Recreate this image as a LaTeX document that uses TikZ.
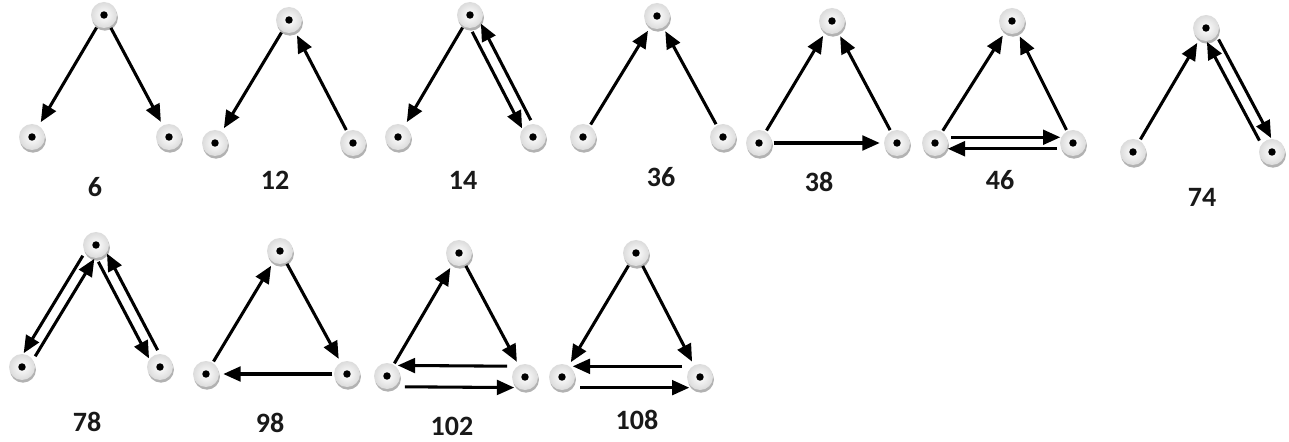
\documentclass[tikz,border=0pt]{standalone}
\usepackage{fontspec}
\setmainfont{Carlito}
\usetikzlibrary{arrows.meta,calc,shadows}
\tikzset{
  vtx/.style={circle, minimum size=19.5pt, inner sep=0pt, shading=radial,
    inner color=white, outer color=gray!28,
    drop shadow={shadow xshift=0.7pt, shadow yshift=-2pt, fill=gray!60, opacity=1},
    path picture={\fill[black] (path picture bounding box.center) circle (2.8pt);}},
  arr/.style={-{Triangle[length=13pt,width=11pt]}, line width=2.3pt, shorten >=3pt, shorten <=1pt},
  parr/.style={arr, shorten >=9.5pt, shorten <=12pt},
  warr/.style={arr, shorten >=8pt, shorten <=13.5pt},
  lbl/.style={font=\fontsize{21}{23}\selectfont\bfseries, text=black!90}
}
% pair edge: offset #4 to the right-hand side of travel
\newcommand{\pedge}[4][parr]{\draw[#1] ($(#2)!#4!-90:(#3)$) -- ($(#3)!#4!90:(#2)$);}
\begin{document}
\begin{tikzpicture}[x=0.75pt,y=-0.75pt]
\useasboundingbox (0,0) rectangle (1289,442);
% ---- nodes
\foreach \n/\tx/\ty/\lx/\ly/\rx/\ry in {
  6/104/15/32/137/169/137,
  12/289/20/215/143/353/143,
  14/470/15/398/137/533/137,
  36/657/16/583/137/723/137,
  38/832/21/759/143/897/143,
  46/1012/21/935/143/1073/143,
  74/1206/28/1133/152/1272/152,
  78/96/245/22/367/160/367,
  98/280/251/206/374/347/374,
  102/459/253/387/376/525/377,
  108/636/253/562/377/700/377}{
  \node[vtx] (t\n) at (\tx,\ty) {};
  \node[vtx] (l\n) at (\lx,\ly) {};
  \node[vtx] (r\n) at (\rx,\ry) {};
}
% ---- labels
\node[lbl] (n6) at (95,187) {6};
\node[lbl] (n12) at (275,180) {12};
\node[lbl] (n14) at (463,180) {14};
\node[lbl] (n36) at (661,177) {36};
\node[lbl] (n38) at (819,182) {38};
\node[lbl] (n46) at (1000,180) {46};
\node[lbl] (n74) at (1202,197) {74};
\node[lbl] (n78) at (87,422) {78};
\node[lbl] (n98) at (270,423) {98};
\node[lbl] (n102) at (452,426) {102};
\node[lbl] (n108) at (637,420) {108};
% ---- edges
% 6
\draw[arr] (t6) -- (l6);
\draw[arr] (t6) -- (r6);
% 12
\draw[arr] (t12) -- (l12);
\draw[arr] (r12) -- (t12);
% 14
\draw[arr] (t14) -- (l14);
\pedge{t14}{r14}{4.3pt}
\pedge{r14}{t14}{4.3pt}
% 36
\draw[arr] (l36) -- (t36);
\draw[arr] (r36) -- (t36);
% 38
\draw[arr] (l38) -- (t38);
\draw[arr] (r38) -- (t38);
\draw[arr] (l38) -- (r38);
% 46
\draw[arr] (l46) -- (t46);
\draw[arr] (r46) -- (t46);
\pedge{l46}{r46}{-4.3pt}
\pedge{r46}{l46}{-4.3pt}
% 74
\draw[arr] (l74) -- (t74);
\pedge{t74}{r74}{-4.3pt}
\pedge{r74}{t74}{-4.3pt}
% 78
\pedge{t78}{l78}{4.3pt}
\pedge{l78}{t78}{4.3pt}
\pedge{t78}{r78}{4.3pt}
\pedge{r78}{t78}{4.3pt}
% 98
\draw[arr] (l98) -- (t98);
\draw[arr] (t98) -- (r98);
\draw[arr] (r98) -- (l98);
% 102
\draw[arr] (l102) -- (t102);
\draw[arr] (t102) -- (r102);
\pedge[warr]{r102}{l102}{8pt}
\pedge[warr]{l102}{r102}{8pt}
% 108
\draw[arr] (t108) -- (l108);
\draw[arr] (t108) -- (r108);
\pedge[warr]{r108}{l108}{8pt}
\pedge[warr]{l108}{r108}{8pt}
\end{tikzpicture}
\end{document}
